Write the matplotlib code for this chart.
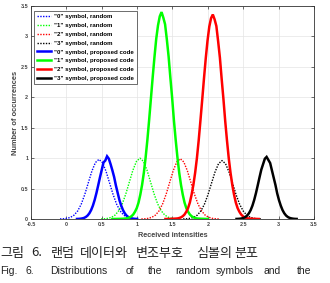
import matplotlib
matplotlib.use("Agg")
import matplotlib.pyplot as plt

# ---------------- data ----------------
R0_X = [-0.09, -0.04, 0.01, 0.06, 0.11, 0.16, 0.21, 0.26, 0.31, 0.36, 0.41, 0.46,
        0.51, 0.56, 0.61, 0.66, 0.71, 0.76, 0.81, 0.86, 0.91, 0.96, 1.01]
R0_Y = [0.001, 0.004, 0.011, 0.028, 0.065, 0.132, 0.244, 0.403, 0.595, 0.785, 0.927, 0.98,
        0.927, 0.785, 0.595, 0.403, 0.244, 0.132, 0.065, 0.028, 0.011, 0.004, 0.001]

R1_X = [0.49, 0.54, 0.59, 0.64, 0.69, 0.74, 0.79, 0.84, 0.89, 0.94, 0.99, 1.04,
        1.09, 1.14, 1.19, 1.24, 1.29, 1.34, 1.39, 1.44, 1.49, 1.54, 1.59]
R1_Y = [0.001, 0.004, 0.011, 0.029, 0.066, 0.135, 0.249, 0.411, 0.607, 0.801, 0.946, 1.0,
        0.946, 0.801, 0.607, 0.411, 0.249, 0.135, 0.066, 0.029, 0.011, 0.004, 0.001]

R2_X = [1.06, 1.11, 1.16, 1.21, 1.26, 1.31, 1.36, 1.41, 1.46, 1.51, 1.56, 1.61,
        1.66, 1.71, 1.76, 1.81, 1.86, 1.91, 1.96, 2.01, 2.06, 2.11, 2.16]
R2_Y = [0.001, 0.004, 0.011, 0.029, 0.065, 0.134, 0.247, 0.407, 0.601, 0.793, 0.937, 0.99,
        0.937, 0.793, 0.601, 0.407, 0.247, 0.134, 0.065, 0.029, 0.011, 0.004, 0.001]

R3_X = [1.65, 1.70, 1.75, 1.80, 1.85, 1.90, 1.95, 2.00, 2.05, 2.10, 2.15, 2.20,
        2.25, 2.30, 2.35, 2.40, 2.45, 2.50, 2.55, 2.60, 2.65, 2.70, 2.75]
R3_Y = [0.001, 0.004, 0.011, 0.028, 0.063, 0.130, 0.239, 0.395, 0.583, 0.769, 0.908, 0.96,
        0.908, 0.769, 0.583, 0.395, 0.239, 0.130, 0.063, 0.028, 0.011, 0.004, 0.001]

P0_X = [0.15, 0.175, 0.2, 0.225, 0.25, 0.275, 0.3, 0.325, 0.35, 0.375, 0.4, 0.425,
        0.45, 0.475, 0.5, 0.525, 0.55, 0.575, 0.6, 0.625, 0.65, 0.675, 0.7, 0.725,
        0.75, 0.775, 0.8, 0.825, 0.85, 0.875, 0.9, 0.925, 0.95, 0.975, 1.0]
P0_Y = [0.001, 0.002, 0.005, 0.010, 0.018, 0.033, 0.057, 0.094, 0.147, 0.220, 0.314, 0.427,
        0.554, 0.685, 0.808, 0.93, 0.96, 1.03, 0.99, 0.90, 0.80, 0.69, 0.55, 0.43,
        0.31, 0.22, 0.147, 0.094, 0.057, 0.033, 0.018, 0.010, 0.005, 0.002, 0.001]

P1_X = [0.65, 0.7, 0.75, 0.8,
        0.845, 0.87, 0.895, 0.92, 0.945, 0.97, 0.995, 1.02, 1.045, 1.07, 1.095, 1.12,
        1.145, 1.17, 1.195, 1.22, 1.245, 1.27, 1.295, 1.32, 1.345, 1.37, 1.395, 1.42,
        1.445, 1.47, 1.495, 1.52, 1.545, 1.57, 1.595, 1.62, 1.645, 1.67, 1.695, 1.72,
        1.745, 1.77, 1.795, 1.82, 1.845,
        1.9, 1.95, 2.0]
P1_Y = [0.0, 0.001, 0.002, 0.004,
        0.009, 0.016, 0.027, 0.046, 0.074, 0.12, 0.18, 0.27, 0.40, 0.56, 0.76, 1.01,
        1.30, 1.63, 1.98, 2.33, 2.66, 2.96, 3.18, 3.33, 3.40, 3.31, 3.20, 2.95,
        2.67, 2.32, 1.99, 1.62, 1.30, 1.01, 0.76, 0.56, 0.40, 0.27, 0.18, 0.12,
        0.074, 0.046, 0.027, 0.016, 0.009,
        0.004, 0.002, 0.0]

P2_X = [1.4, 1.45, 1.5,
        1.57, 1.595, 1.62, 1.645, 1.67, 1.695, 1.72, 1.745, 1.77, 1.795, 1.82, 1.845,
        1.87, 1.895, 1.92, 1.945, 1.97, 1.995, 2.02, 2.045, 2.07, 2.095, 2.12, 2.145,
        2.17, 2.195, 2.22, 2.245, 2.27, 2.295, 2.32, 2.345, 2.37, 2.395, 2.42, 2.445,
        2.47, 2.495, 2.52, 2.545, 2.57,
        2.62, 2.67, 2.72]
P2_Y = [0.0, 0.001, 0.003,
        0.009, 0.016, 0.027, 0.046, 0.074, 0.12, 0.18, 0.27, 0.40, 0.56, 0.76, 1.00,
        1.29, 1.62, 1.96, 2.31, 2.64, 2.93, 3.16, 3.30, 3.36, 3.28, 3.17, 2.92,
        2.65, 2.30, 1.97, 1.61, 1.29, 1.00, 0.76, 0.56, 0.40, 0.27, 0.18, 0.12,
        0.074, 0.046, 0.027, 0.016, 0.009,
        0.004, 0.002, 0.0]

P3_X = [2.405, 2.43, 2.455, 2.48, 2.505, 2.53, 2.555, 2.58, 2.605, 2.63, 2.655, 2.68,
        2.705, 2.73, 2.755, 2.78, 2.805, 2.83, 2.855, 2.88, 2.905, 2.93, 2.955, 2.98,
        3.005, 3.03, 3.055, 3.08, 3.105, 3.13, 3.155, 3.18, 3.205, 3.23, 3.255]
P3_Y = [0.001, 0.002, 0.005, 0.010, 0.018, 0.033, 0.057, 0.094, 0.147, 0.220, 0.314, 0.427,
        0.554, 0.685, 0.81, 0.90, 0.99, 1.02, 0.97, 0.92, 0.80, 0.68, 0.56, 0.42,
        0.31, 0.22, 0.147, 0.094, 0.057, 0.033, 0.018, 0.010, 0.005, 0.002, 0.001]

LABELS = ['"0" symbol, random', '"1" symbol, random', '"2" symbol, random', '"3" symbol, random',
          '"0" symbol, proposed code', '"1" symbol, proposed code',
          '"2" symbol, proposed code', '"3" symbol, proposed code']
COLORS = ['#0000ff', '#00ff00', '#ff0000', '#000000']

X_TICKS = [-0.5, 0, 0.5, 1, 1.5, 2, 2.5, 3, 3.5]
X_TICKLABELS = ['-0.5', '0', '0.5', '1', '1.5', '2', '2.5', '3', '3.5']
Y_TICKS = [0, 0.5, 1, 1.5, 2, 2.5, 3, 3.5]
Y_TICKLABELS = ['0', '0.5', '1', '1.5', '2', '2.5', '3', '3.5']

XLABEL = 'Received intensities'
YLABEL = 'Number of occurrences'
CAPTION_KO = [('그림', 0), ('6.', 31), ('랜덤', 51), ('데이터와', 80), ('변조부호', 136),
              ('심볼의', 196), ('분포', 234)]
CAPTION_EN = [('Fig.', 0), ('6.', 25), ('Distributions', 50), ('of', 126), ('the', 148),
              ('random', 175), ('symbols', 216), ('and', 263), ('the', 297)]

# ---------------- figure ----------------
W, H = 330, 283
fig = plt.figure(figsize=(W / 100, H / 100), dpi=100)
ax = fig.add_axes([31 / W, 1 - 219 / H, (314 - 31) / W, (219 - 6) / H])

FONT = 'Liberation Sans'
random_sets = [(R0_X, R0_Y), (R1_X, R1_Y), (R2_X, R2_Y), (R3_X, R3_Y)]
prop_sets = [(P0_X, P0_Y), (P1_X, P1_Y), (P2_X, P2_Y), (P3_X, P3_Y)]
for i, (xs, ys) in enumerate(random_sets):
    ax.plot(xs, ys, linestyle=(0, (1, 1)), lw=1.0, color=COLORS[i], label=LABELS[i])
for i, (xs, ys) in enumerate(prop_sets):
    ax.plot(xs, ys, linestyle='-', lw=1.8, color=COLORS[i], label=LABELS[4 + i],
            solid_joinstyle='miter')

ax.set_xlim(-0.5, 3.5)
ax.set_ylim(0, 3.5)
ax.set_xticks(X_TICKS)
ax.set_xticklabels(X_TICKLABELS)
ax.set_yticks(Y_TICKS)
ax.set_yticklabels(Y_TICKLABELS)
ax.tick_params(direction='in', length=2, width=0.5, labelsize=3.9, pad=2,
               top=True, right=True, colors='#333333')
for lab in ax.get_xticklabels() + ax.get_yticklabels():
    lab.set_fontfamily(FONT)
    lab.set_fontweight('bold')
    lab.set_color('#444444')
ax.grid(True, color='#e4e4e4', lw=0.5)
ax.set_axisbelow(True)
for s in ax.spines.values():
    s.set_linewidth(0.6)
    s.set_color('#333333')

ax.set_xlabel(XLABEL, fontsize=5.2, fontweight='bold', family=FONT, color='#444444', labelpad=4)
ax.set_ylabel(YLABEL, fontsize=5.4, fontweight='bold', family=FONT, color='#444444', labelpad=1.5)

leg = ax.legend(loc='upper left', bbox_to_anchor=(0.01, 0.977), borderaxespad=0,
                prop={'family': FONT, 'weight': 'bold', 'size': 4.4},
                fancybox=False, edgecolor='#333333', framealpha=1,
                handlelength=2.3, handletextpad=0.5, labelspacing=0.58, borderpad=0.5)
leg.get_frame().set_linewidth(0.5)

for txt, px in CAPTION_KO:
    fig.text(px / W, 1 - 253 / H, txt, fontsize=9.4, family=['Noto Sans CJK KR', 'DejaVu Sans'],
             va='center', ha='left', color='#222222')
for txt, px in CAPTION_EN:
    fig.text(px / W, 1 - 271 / H, txt, fontsize=7.5, family=FONT,
             va='center', ha='left', color='#222222')

fig.savefig('out.png', dpi=100)
